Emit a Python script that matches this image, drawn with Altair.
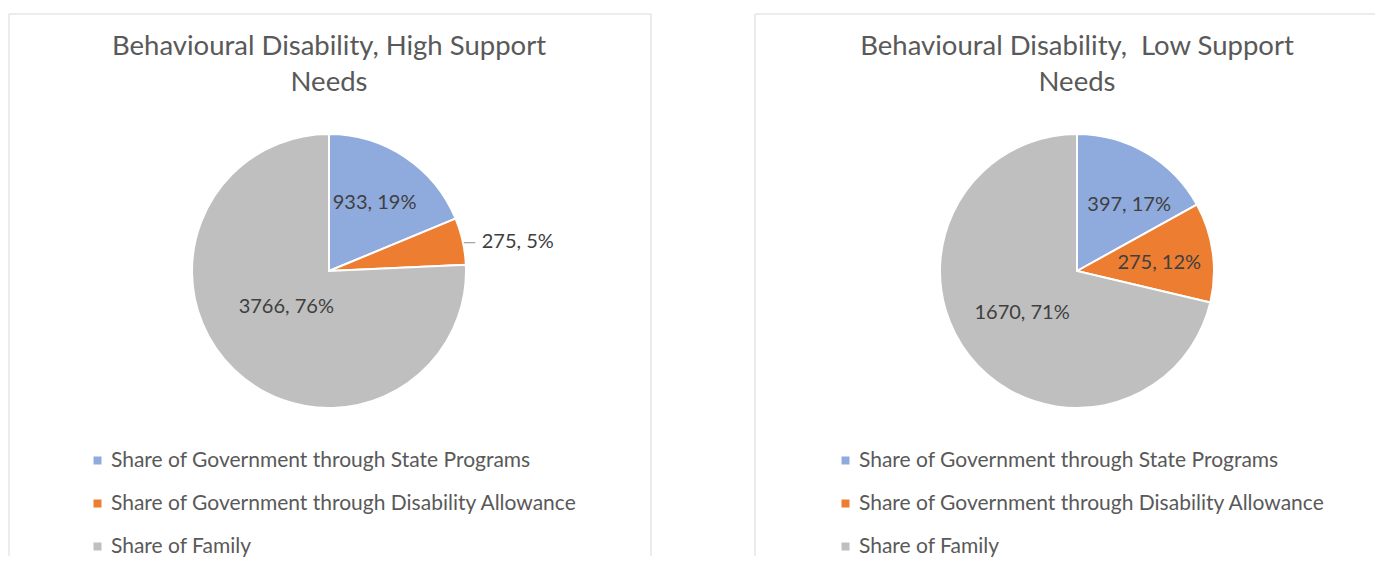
import altair as alt
import pandas as pd

# ---------------- data ----------------
categories = [
    "Share of Government through State Programs",
    "Share of Government through Disability Allowance",
    "Share of Family",
]
high_values = [933, 275, 3766]
high_pct = [19, 5, 76]
low_values = [397, 275, 1670]
low_pct = [17, 12, 71]
high_title = ["Behavioural Disability, High Support", "Needs"]
low_title = ["Behavioural Disability,\u00a0 Low Support", "Needs"]
colors = ["#8FAADC", "#ED7D31", "#BFBFBF"]

# ---------------- styling ----------------
FONT = "Lato"
W1, W2, H = 642, 620, 542
R = 137
CY = 257
FRAME = "#D9D9D9"


def make_df(values, pct):
    return pd.DataFrame({
        "cat": categories,
        "value": values,
        "pct": pct,
        "order": list(range(len(categories))),
    })


def panel(values, pct, title_lines, cx, label_specs, width, right_frame):
    df = make_df(values, pct)
    base = alt.Chart(df)
    color = alt.Color(
        "cat:N",
        scale=alt.Scale(domain=categories, range=colors),
        sort=categories,
        legend=alt.Legend(
            title=None, orient="none", legendX=cx - 242, legendY=436,
            symbolType="square", symbolSize=64, symbolStrokeWidth=0,
            labelFont=FONT, labelFontSize=21, labelColor="#595959",
            rowPadding=21, labelOffset=3, labelLimit=700,
        ),
    )
    pie = base.mark_arc(outerRadius=R, stroke="white", strokeWidth=2).encode(
        theta=alt.Theta("value:Q", stack=True),
        color=color,
        order=alt.Order("order:Q"),
        x=alt.value(cx), y=alt.value(CY),
    )

    lab = base.transform_joinaggregate(total="sum(value)").transform_window(
        cum="sum(value)", sort=[alt.SortField("order")], frame=[None, 0]
    ).transform_calculate(
        mid="(datum.cum - datum.value / 2) / datum.total * 2 * PI",
        label="datum.value + ', ' + datum.pct + '%'",
    )

    layers = [pie]
    for i, r, dx, dy, align, leader in label_specs:
        sub = lab.transform_filter(alt.datum.order == i)
        if leader:
            layers.append(sub.mark_text(
                radius=R, dx=0, dy=2, align="left", font=FONT, fontSize=17,
                color="#A6A6A6", text="\u2014",
            ).encode(theta=alt.Theta("mid:Q", scale=None),
                     x=alt.value(cx), y=alt.value(CY)))
        layers.append(sub.mark_text(
            radius=r, dx=dx, dy=dy, align=align, font=FONT, fontSize=20,
            color="#404040",
        ).encode(theta=alt.Theta("mid:Q", scale=None), text="label:N",
                 x=alt.value(cx), y=alt.value(CY)))

    dummy = alt.Chart(pd.DataFrame({"k": [0]}))
    for j, line in enumerate(title_lines):
        layers.append(dummy.mark_text(
            font=FONT, fontSize=27.5, color="#595959", align="center", baseline="middle",
        ).encode(text=alt.value(line), x=alt.value(cx), y=alt.value(33 + 36 * j)))

    # panel frame (top, left and optionally right edges; bottom is off-screen)
    layers.append(dummy.mark_rule(color=FRAME, strokeWidth=1).encode(
        x=alt.value(0), x2=alt.value(width), y=alt.value(0)))
    layers.append(dummy.mark_rule(color=FRAME, strokeWidth=1).encode(
        x=alt.value(0), y=alt.value(0), y2=alt.value(H)))
    if right_frame:
        layers.append(dummy.mark_rule(color=FRAME, strokeWidth=1).encode(
            x=alt.value(width), y=alt.value(0), y2=alt.value(H)))

    return alt.layer(*layers).properties(width=width, height=H)


left = panel(
    high_values, high_pct, high_title, 320,
    [(0, 82, 0, 0, "center", False),
     (1, R, 19, 1, "left", True),
     (2, 56, -4, -4, "center", False)],
    W1, True,
)
right = panel(
    low_values, low_pct, low_title, 322,
    [(0, 83, 10, 6, "center", False),
     (1, 81, 2, 3, "center", False),
     (2, 70, 0, -1, "center", False)],
    W2, False,
)

chart = alt.hconcat(left, right, spacing=102).resolve_legend(
    color="independent"
).properties(
    padding={"left": 0, "top": 5, "right": 0, "bottom": 0}
).configure_view(strokeOpacity=0)

chart.save("out.html", embed_options={"renderer": "svg", "actions": False})
